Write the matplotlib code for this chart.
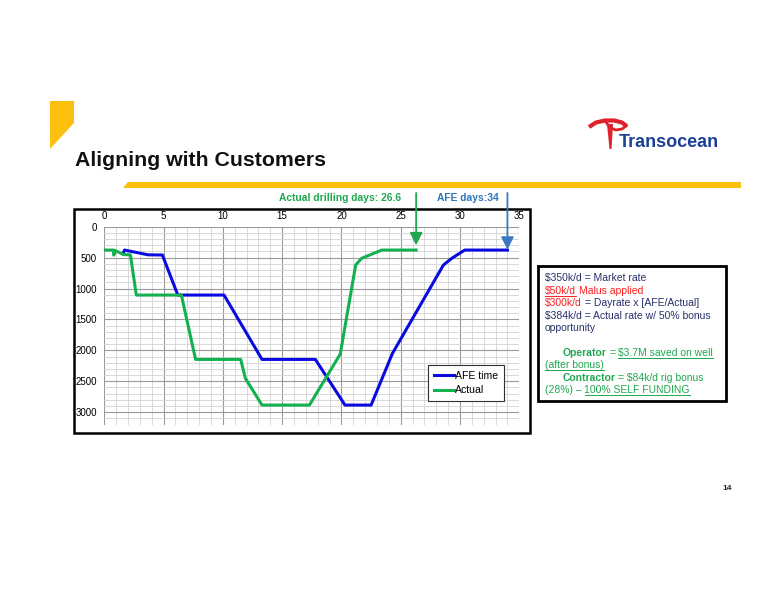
import matplotlib
matplotlib.use("Agg")
import matplotlib.pyplot as plt
from matplotlib.patches import Polygon, Rectangle

plt.rcParams['font.family'] = ['Liberation Sans', 'DejaVu Sans']

# ---------------- data ----------------
afe_days = [1.6, 1.7, 3.7, 4.9, 6.2, 10.1, 13.3, 17.8, 20.3, 22.5, 24.3, 28.6, 29.3, 30.4, 34.0]
afe_depth = [430, 378, 455, 458, 1106, 1106, 2147, 2147, 2886, 2886, 2050, 620, 512, 378, 378]

actual_days = [0, 0.8, 0.8, 0.9, 1.3, 1.6, 2.2, 2.7, 6.5, 7.7, 11.5, 11.9, 13.3, 17.3, 19.9,
               21.2, 21.7, 23.4, 26.3]
actual_depth = [378, 378, 460, 385, 420, 450, 455, 1106, 1106, 2147, 2147, 2454, 2886, 2886,
                2060, 620, 512, 378, 378]

x_ticks = [0, 5, 10, 15, 20, 25, 30, 35]
y_ticks = [0, 500, 1000, 1500, 2000, 2500, 3000]
series_labels = ["AFE time", "Actual"]

title = "Aligning with Customers"
actual_label = "Actual drilling days: 26.6"
afe_label = "AFE days:34"

NAVY = '#27306b'
RED = '#ff1f1f'
TGREEN = '#1fa84f'
box_lines = [
    [("$350k/d = Market rate", NAVY, 'normal', False)],
    [("$50k/d", RED, 'normal', True), (" Malus applied", RED, 'normal', False)],
    [("$300k/d", RED, 'normal', False), (" = Dayrate x [AFE/Actual]", NAVY, 'normal', False)],
    [("$384k/d = Actual rate w/ 50% bonus", NAVY, 'normal', False)],
    [("opportunity", NAVY, 'normal', False)],
    [],
    [("      Operator", TGREEN, 'bold', False), (" = ", TGREEN, 'normal', False),
     ("$3.7M saved on well", TGREEN, 'normal', True)],
    [("(after bonus)", TGREEN, 'normal', True)],
    [("      Contractor", TGREEN, 'bold', False), (" = $84k/d rig bonus", TGREEN, 'normal', False)],
    [("(28%) \u2013 ", TGREEN, 'normal', False), ("100% SELF FUNDING", TGREEN, 'normal', True)],
]

# ---------------- figure ----------------
W, H = 776, 600
fig = plt.figure(figsize=(W / 100, H / 100), dpi=100)
fig.patch.set_facecolor('white')

ov = fig.add_axes([0, 0, 1, 1], zorder=0)
ov.set_xlim(0, W)
ov.set_ylim(H, 0)
ov.axis('off')

YEL = '#fdc00f'
ov.add_patch(Polygon([(50, 101), (74, 101), (74, 123), (50, 149)], closed=True,
                     facecolor=YEL, edgecolor='none'))
ov.add_patch(Polygon([(128, 182), (741, 182), (741, 188), (123, 188)], closed=True,
                     facecolor=YEL, edgecolor='none'))

ov.text(75, 165.5, title, fontsize=15.3, fontweight='bold', color='#111111', va='baseline')

# logo
LRED = '#e0202a'
ov.plot([589, 596, 605, 614, 622, 627], [127, 122.5, 120.5, 120.5, 122.5, 126.5],
        color=LRED, lw=3.0, solid_capstyle='butt')
ov.plot([606, 610, 616, 622, 626], [122, 128, 130, 129, 126], color=LRED, lw=2.0)
ov.add_patch(Polygon([(607, 124), (613, 124), (611.5, 149), (609.5, 149)], closed=True,
                     facecolor=LRED, edgecolor='none'))
ov.text(619, 147, "Transocean", fontsize=13, fontweight='bold', color='#1c3f94',
        va='baseline')

# chart frame
ov.add_patch(Rectangle((74, 209), 456, 224, facecolor='white', edgecolor='black', lw=1.8))

# annotations text
ov.text(279, 198, actual_label, fontsize=7.4, fontweight='bold', color='#1fa84f',
        va='center', parse_math=False)
ov.text(437, 198, afe_label, fontsize=7.4, fontweight='bold', color='#2e75c0',
        va='center', parse_math=False)

# text box
ov.add_patch(Rectangle((538, 266), 188, 135, facecolor='white', edgecolor='black', lw=2.0))

renderer = fig.canvas.get_renderer()


def twidth(s, weight, size):
    t = ov.text(0, 0, s, fontsize=size, fontweight=weight, parse_math=False)
    w = t.get_window_extent(renderer).width
    t.remove()
    return w


def adv(s, weight, size):
    return twidth('|' + s + '|', weight, size) - twidth('||', weight, size)


FS = 7.5
x0 = 545
base0 = 281.5
step = 12.4
for i, line in enumerate(box_lines):
    yb = base0 + i * step
    x = x0
    for s, col, wt, ul in line:
        stripped = s.strip()
        lead = s[:len(s) - len(s.lstrip())]
        xd = x + (adv(lead, wt, FS) if lead else 0)
        ov.text(xd, yb, stripped, fontsize=FS, fontweight=wt, color=col,
                va='baseline', ha='left', parse_math=False)
        if ul:
            wv = twidth(stripped, wt, FS)
            ov.plot([xd, xd + wv], [yb + 1.8, yb + 1.8], color=col, lw=0.7)
        x += adv(s, wt, FS)

ov.text(727, 488, "14", fontsize=6, fontweight='bold', color='#222222', ha='center',
        va='center')

# ---------------- chart axes ----------------
L, R, T, B = 104.3, 519.3, 226.7, 424.5
ax = fig.add_axes([L / W, 1 - B / H, (R - L) / W, (B - T) / H], zorder=1)
ax.set_facecolor('white')
ax.set_xlim(0, 35)
ax.set_ylim(3200, 0)
ax.xaxis.tick_top()
ax.set_xticks(x_ticks)
ax.set_xticks(range(0, 36), minor=True)
ax.set_yticks(y_ticks)
ax.set_yticks(range(0, 3201, 100), minor=True)
ax.tick_params(which='both', length=0)
ax.tick_params(axis='x', labelsize=7, pad=4.2)
ax.tick_params(axis='y', labelsize=7, pad=5.3)
ax.grid(which='minor', color='#d2d2d2', lw=0.6)
ax.grid(which='major', color='#9a9a9a', lw=0.8)
ax.set_axisbelow(True)
for sp in ax.spines.values():
    sp.set_visible(False)

ax.plot(afe_days, afe_depth, color='#0a0ae0', lw=2.2, label=series_labels[0],
        solid_joinstyle='round')
ax.plot(actual_days, actual_depth, color='#12b04f', lw=2.2, label=series_labels[1],
        solid_joinstyle='round')

leg = ax.legend(loc='lower left', bbox_to_anchor=(0.781, 0.12), borderaxespad=0,
                fontsize=7.6, handlelength=1.9, handletextpad=0.15, labelspacing=0.45,
                borderpad=0.5, fancybox=False, framealpha=1, edgecolor='#303030')
leg.get_frame().set_linewidth(0.8)

# arrows
ax.annotate('', xy=(actual_days[-1], 300), xycoords='data',
            xytext=(actual_days[-1], H - 193), textcoords=('data', 'figure pixels'),
            arrowprops=dict(arrowstyle='-|>,head_width=0.38,head_length=0.75',
                            color='#1fa84f', lw=1.3, shrinkA=0, shrinkB=0),
            annotation_clip=False)
ax.annotate('', xy=(afe_days[-1], 370), xycoords='data',
            xytext=(afe_days[-1], H - 193), textcoords=('data', 'figure pixels'),
            arrowprops=dict(arrowstyle='-|>,head_width=0.38,head_length=0.75',
                            color='#3a78c0', lw=1.3, shrinkA=0, shrinkB=0),
            annotation_clip=False)

fig.savefig('out.png', dpi=100, facecolor='white')
